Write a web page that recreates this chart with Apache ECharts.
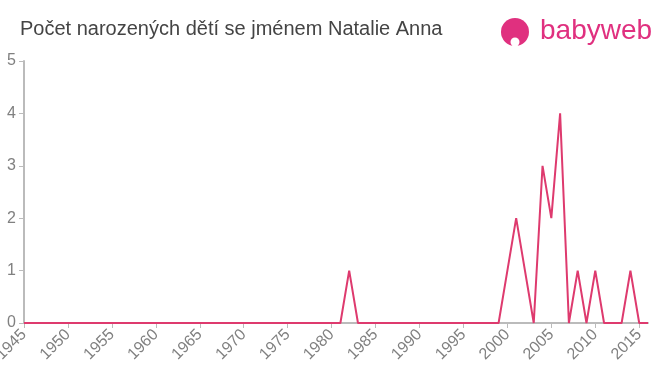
<!DOCTYPE html>
<html><head><meta charset="utf-8">
<script src="https://cdn.jsdelivr.net/npm/echarts@6/dist/echarts.min.js"></script>
<style>html,body{margin:0;padding:0;background:#fff}#c{width:660px;height:375px}</style>
</head><body><div id="c"></div>
<script>
const title = 'Počet narozených dětí se jménem Natalie Anna';
const years = [];
for (let y = 1945; y <= 2016; y++) years.push(y);
const nonZero = {1982:1, 2000:1, 2001:2, 2002:1, 2004:3, 2005:2, 2006:4, 2008:1, 2010:1, 2014:1};
const counts = years.map(y => nonZero[y] || 0);
const yTicks = [0,1,2,3,4,5];

const chart = echarts.init(document.getElementById('c'));
chart.setOption({
  animation: false,
  title: {text: title, left: 15, top: 14, textStyle: {fontFamily: 'Liberation Sans, Arial', fontSize: 20, fontWeight: 'normal', color: '#444'}},
  graphic: [
    {type: 'circle', shape: {cx: 515, cy: 32, r: 14}, style: {fill: '#e0307f'}},
    {type: 'circle', shape: {cx: 515, cy: 42, r: 4.5}, style: {fill: '#fff'}},
    {type: 'text', left: 540, top: 17, style: {text: 'babyweb', fill: '#e0307f', font: '28px "Liberation Sans", Arial'}}
  ],
  grid: {left: 24, right: 12, top: 61, bottom: 52, outerBoundsMode: 'none', containLabel: false},
  xAxis: {
    type: 'value', min: 1945, max: 2016, interval: 5,
    axisLine: {lineStyle: {color: '#bbb', width: 2}},
    axisTick: {show: true, length: 5, lineStyle: {color: '#bbb'}},
    axisLabel: {rotate: 45, fontSize: 16, color: '#808080', fontFamily: 'Liberation Sans, Arial', margin: 9, showMaxLabel: false, formatter: v => String(v)},
    splitLine: {show: false}
  },
  yAxis: {
    type: 'value', min: 0, max: 5, interval: 1,
    axisLine: {show: true, lineStyle: {color: '#bbb', width: 2}},
    axisTick: {show: true, length: 5, lineStyle: {color: '#bbb'}},
    axisLabel: {fontSize: 16, color: '#808080', fontFamily: 'Liberation Sans, Arial', margin: 8, formatter: v => String(yTicks[v])},
    splitLine: {show: false}
  },
  series: [{
    type: 'line', data: years.map((y, i) => [y, counts[i]]),
    showSymbol: false, lineStyle: {color: '#de3a6e', width: 2}, itemStyle: {color: '#de3a6e'}
  }]
});
</script></body></html>
